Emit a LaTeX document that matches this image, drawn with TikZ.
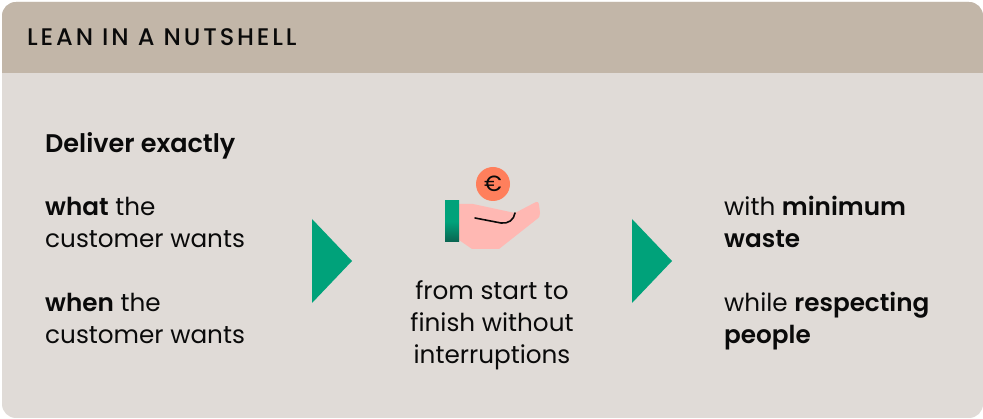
\documentclass[tikz,border=0pt]{standalone}
\usepackage{fontspec}
\setmainfont{Poppins}[BoldFont={Poppins SemiBold}]
\newfontfamily\titlefont{Poppins Medium}[LetterSpace=12]
\usetikzlibrary{positioning,shadings}
\definecolor{cpanel}{HTML}{E0DBD7}
\definecolor{chead}{HTML}{C2B6A8}
\definecolor{cgreen}{HTML}{00A27A}
\definecolor{cdark}{HTML}{0B6350}
\definecolor{ccoin}{HTML}{FF7F5C}
\definecolor{chand}{HTML}{FFB8B3}
\definecolor{cink}{HTML}{0A0A0A}
\begin{document}
\begin{tikzpicture}[x=1pt, y=-1pt, node distance=32pt and 0pt,
  txt/.style={align=left, inner sep=0pt, text=cink, font=\fontsize{24.7}{32}\selectfont},
  mid/.style={txt, align=center},
  tri/.style={fill=cgreen}]
\useasboundingbox (0,0) rectangle (983,419);
% panel and header
\fill[cpanel, rounded corners=14pt] (2,2) rectangle (983,418);
\fill[chead, rounded corners=14pt] (2,73) [sharp corners] -- (2,60) [rounded corners=14pt] -- (2,2) -- (983,2) [sharp corners] -- (983,73) -- cycle;
\node[txt, anchor=base west, font=\fontsize{24}{26}\titlefont] (title) at (27,46) {LEAN IN A NUTSHELL};
% left column
\node[txt, anchor=north west, font=\fontsize{25.5}{32}\selectfont\bfseries] (deliver) at (45,132) {Deliver exactly};
\node[txt, below=38pt of deliver.south west, anchor=north west] (what) {\textbf{what} the\\customer wants};
\node[txt, below=45pt of what.south west, anchor=north west] (when) {\textbf{when} the\\customer wants};
% arrows
\fill[tri] (312,219) -- (352,261) -- (312,303) -- cycle;
\fill[tri] (632,219) -- (672,261) -- (632,303) -- cycle;
% hand with coin
\fill[ccoin] (493,184) circle (17);
\node[inner sep=0pt, text=cink, font=\fontsize{22}{22}\selectfont] (euro) at (493,184) {€};
\fill[chand] (459,204) -- (473,204) -- (515,213) -- (536,202) .. controls (539,201) and (539,204) .. (540,213)
  .. controls (540,216) and (539,218) .. (537,219) -- (499,249) -- (472,249) -- (459,240) -- cycle;
\shade[top color=cgreen, bottom color=cdark, middle color=cgreen] (445,201) rectangle (459,242);
\draw[cink, line width=1.6pt, line cap=round] (475,218) -- (501,223) .. controls (508,224) and (514,220) .. (515,213);
% middle column
\node[mid, anchor=north] (start) at (492,280) {from start to\\finish without\\interruptions};
% right column
\node[txt, anchor=north west] (waste) at (724,196) {with \textbf{minimum}\\\textbf{waste}};
\node[txt, below=44pt of waste.south west, anchor=north west] (people) {while \textbf{respecting}\\\textbf{people}};
\end{tikzpicture}
\end{document}
